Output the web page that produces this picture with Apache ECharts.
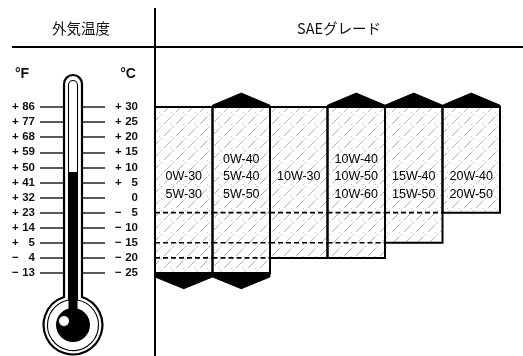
<!DOCTYPE html>
<html><head><meta charset="utf-8">
<script src="https://cdn.jsdelivr.net/npm/echarts@6/dist/echarts.min.js"></script>
<style>html,body{margin:0;padding:0;background:#fff}#c{width:523px;height:356px}</style>
</head><body><div id="c"></div>
<script>
// ---- data ----
const gradeNames = ['0W-30/5W-30','0W-40/5W-40/5W-50','10W-30','10W-40/10W-50/10W-60','15W-40/15W-50','20W-40/20W-50'];
const gradeLines = [['0W-30','5W-30'],['0W-40','5W-40','5W-50'],['10W-30'],['10W-40','10W-50','10W-60'],['15W-40','15W-50'],['20W-40','20W-50']];
const lowC  = [-25, -25, -20, -20, -15, -5];
const highC = [30, 30, 30, 30, 30, 30];
const extendsAbove = [false, true, false, true, true, true];
const extendsBelow = [true, true, false, false, false, false];
const dashLevelsC = [-5, -15, -20];
const celsiusTicks = [30, 25, 20, 15, 10, 5, 0, -5, -10, -15, -20, -25];
const celsiusLabels = ['+30','+25','+20','+15','+10','+5','0','−5','−10','−15','−20','−25'];
const fahrenheitLabels = ['+86','+77','+68','+59','+50','+41','+32','+23','+14','+5','−4','−13'];
const headerLeft = '外気温度';
const headerRight = 'SAEグレード';

// ---- hatch pattern ----
const hc = document.createElement('canvas');
hc.width = 12; hc.height = 12;
(function(){
  const g = hc.getContext('2d');
  g.strokeStyle = '#a8a8a8'; g.lineWidth = 0.9;
  g.setLineDash([6, 2, 2, 3]);
  g.beginPath();
  g.moveTo(-1, 13); g.lineTo(13, -1);
  g.stroke();
  g.fillStyle = '#c0c0c0';
  g.fillRect(3, 4, 1, 1);
})();
const hatch = { image: hc, repeat: 'repeat' };

function richLabel(s) {
  const c = s[0];
  if (c === '+' || c === '−') return '{s|' + c + '}{n|' + s.slice(1) + '}';
  return '{n|' + s + '}';
}
const numFont = { fontFamily: 'Liberation Sans', fontSize: 11.5, fontWeight: 'bold', color: '#111' };
const richStyle = {
  s: Object.assign({ width: 10, align: 'left' }, numFont),
  n: Object.assign({ width: 13, align: 'right' }, numFont)
};

const chart = echarts.init(document.getElementById('c'), null, { renderer: 'canvas' });
const pxPerC = 166 / 55;
const gridATop = 107 - 10 * pxPerC;
const gridABottom = 356 - (273 + 15 * pxPerC);

chart.setOption({
  animation: false,
  backgroundColor: '#fff',
  grid: [
    { left: 155, right: 23, top: gridATop, bottom: gridABottom },
    { left: 40, right: 418, top: 107, bottom: 83 }
  ],
  xAxis: [
    { gridIndex: 0, type: 'category', data: gradeNames, show: false, boundaryGap: true },
    { gridIndex: 1, type: 'value', min: 0, max: 1, show: false }
  ],
  yAxis: [
    { gridIndex: 0, type: 'value', min: -40, max: 40, show: false },
    { gridIndex: 1, type: 'value', position: 'left', min: -25, max: 30, interval: 5,
      axisLine: { show: false }, axisTick: { show: false },
      splitLine: { show: true, lineStyle: { color: '#222', width: 1.6 } },
      axisLabel: { margin: 5, formatter: v => richLabel(fahrenheitLabels[celsiusTicks.indexOf(v)] || ''), rich: richStyle } },
    { gridIndex: 1, type: 'value', position: 'right', min: -25, max: 30, interval: 5,
      axisLine: { show: false }, axisTick: { show: false }, splitLine: { show: false },
      axisLabel: { margin: 33, align: 'right', formatter: v => richLabel(celsiusLabels[celsiusTicks.indexOf(v)] || ''), rich: richStyle } }
  ],
  series: [{
    type: 'custom',
    xAxisIndex: 0, yAxisIndex: 0,
    data: gradeNames.map((g, i) => [i, lowC[i], highC[i]]),
    encode: { x: 0, y: [1, 2] },
    renderItem: function (params, api) {
      const i = api.value(0);
      const lo = api.value(1), hi = api.value(2);
      const w = api.size([1, 0])[0];
      const pTop = api.coord([i, hi]);
      const cx = pTop[0];
      const x0 = cx - w / 2, x1 = cx + w / 2;
      const yTop = pTop[1], yBot = api.coord([i, lo])[1];
      const ch = [];
      ch.push({ type: 'rect', shape: { x: x0, y: yTop, width: w, height: yBot - yTop },
        style: { fill: hatch, stroke: '#000', lineWidth: 2 } });
      dashLevelsC.forEach(function (d) {
        if (d > lo) {
          const y = api.coord([i, d])[1];
          ch.push({ type: 'line', shape: { x1: x0, y1: y, x2: x1, y2: y },
            style: { stroke: '#000', lineWidth: 1.6, lineDash: [5, 3] } });
        }
      });
      if (extendsAbove[i]) {
        const yS = api.coord([i, hi + 0.6])[1], yP = api.coord([i, hi + 4.6])[1];
        ch.push({ type: 'polygon', shape: { points: [[x0, yTop], [x0, yS], [cx, yP], [x1, yS], [x1, yTop]] },
          style: { fill: '#000', stroke: '#000', lineWidth: 1 } });
      }
      if (extendsBelow[i]) {
        const yS = api.coord([i, lo - 1.3])[1], yP = api.coord([i, lo - 5.2])[1];
        ch.push({ type: 'polygon', shape: { points: [[x0, yBot], [x0, yS], [cx, yP], [x1, yS], [x1, yBot]] },
          style: { fill: '#000', stroke: '#000', lineWidth: 1 } });
      }
      const lines = gradeLines[i];
      const n = lines.length, slots = Math.max(n, 2);
      const base = api.coord([i, 1])[1];
      lines.forEach(function (t, k) {
        const offsetFromBottom = slots - 1 - k;
        ch.push({ type: 'text', style: { text: t, x: cx, y: base - offsetFromBottom * 17.5,
          align: 'center', verticalAlign: 'middle', fontSize: 12.5, fontFamily: 'Liberation Sans', fill: '#000' } });
      });
      return { type: 'group', children: ch };
    }
  }, {
    type: 'custom',
    xAxisIndex: 1, yAxisIndex: 1,
    z: 5,
    silent: true,
    data: [[0.5, 0]],
    renderItem: function () {
      return { type: 'group', children: [
        { type: 'path', shape: { pathData: 'M64,297 L64,84 A9,9 0 0 1 82,84 L82,297 A29.41,29.41 0 1 1 64,297 Z' },
          style: { fill: '#fff', stroke: '#000', lineWidth: 2.2 } },
        { type: 'path', shape: { pathData: 'M68.5,300 L68.5,85 A4.5,4.5 0 0 1 77.5,85 L77.5,300 A25.5,25.5 0 1 1 68.5,300 Z' },
          style: { fill: '#fff', stroke: '#000', lineWidth: 1.1 } },
        { type: 'rect', shape: { x: 68.5, y: 172, width: 9, height: 140 }, style: { fill: '#000' } },
        { type: 'circle', shape: { cx: 73, cy: 325, r: 17 }, style: { fill: '#000' } },
        { type: 'circle', shape: { cx: 64, cy: 321, r: 5.5 }, style: { fill: '#fff', stroke: '#000', lineWidth: 1 } }
      ] };
    }
  }],
  graphic: [
    { type: 'text', z: 100, style: { text: headerLeft, x: 81, y: 28, textAlign: 'center', textVerticalAlign: 'middle', align: 'center', verticalAlign: 'middle', font: '14.5px "Noto Sans CJK JP"', fill: '#111' } },
    { type: 'text', z: 100, style: { text: headerRight, x: 339, y: 28, textAlign: 'center', textVerticalAlign: 'middle', align: 'center', verticalAlign: 'middle', font: '14.5px "Noto Sans CJK JP"', fill: '#111' } },
    { type: 'line', z: 100, shape: { x1: 12, y1: 47, x2: 523, y2: 47 }, style: { stroke: '#000', lineWidth: 2 } },
    { type: 'line', z: 100, shape: { x1: 155, y1: 8, x2: 155, y2: 356 }, style: { stroke: '#000', lineWidth: 2 } },
    { type: 'text', z: 100, style: { text: '°F', x: 22, y: 74, textAlign: 'center', textVerticalAlign: 'middle', align: 'center', verticalAlign: 'middle', font: 'bold 14px "Liberation Sans"', fill: '#111' } },
    { type: 'text', z: 100, style: { text: '°C', x: 128, y: 74, textAlign: 'center', textVerticalAlign: 'middle', align: 'center', verticalAlign: 'middle', font: 'bold 14px "Liberation Sans"', fill: '#111' } }
  ]
});
</script>
</body></html>
